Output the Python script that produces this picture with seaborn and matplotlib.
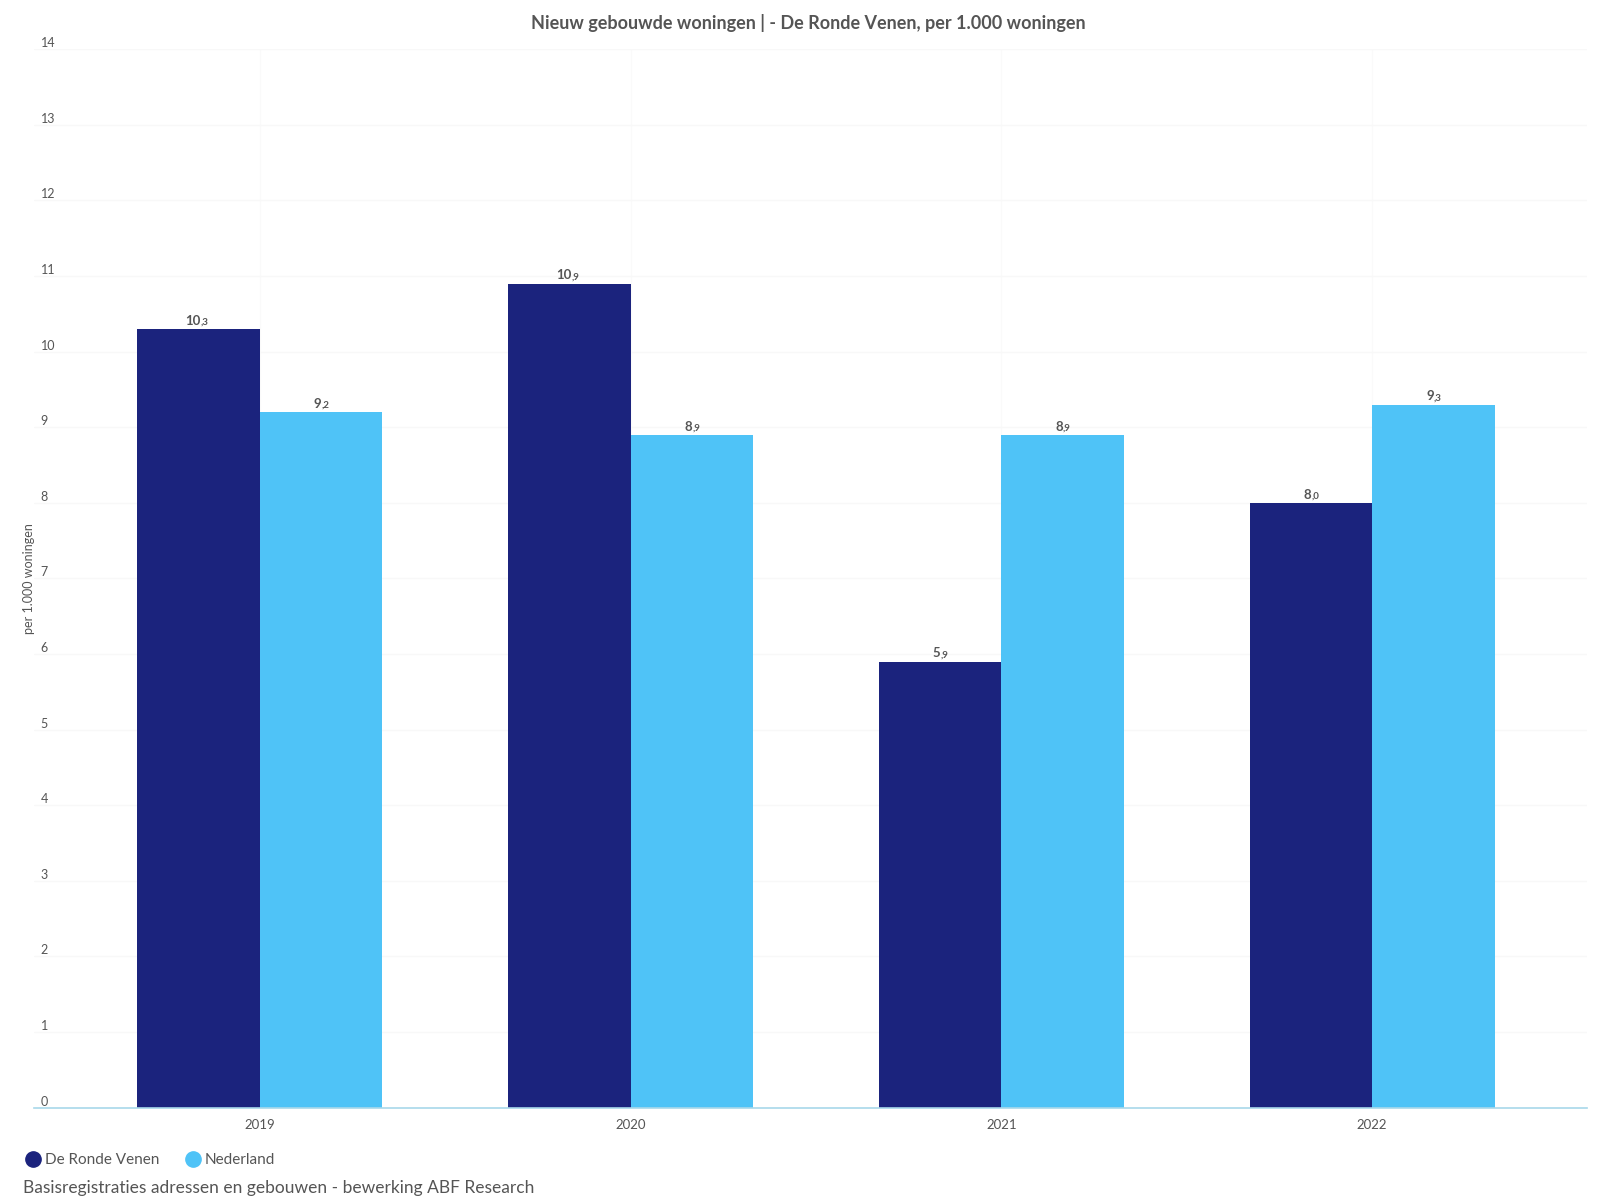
import matplotlib
matplotlib.use("Agg")
import matplotlib.pyplot as plt
import seaborn as sns
import pandas as pd
from matplotlib.lines import Line2D

jaren = ["2019", "2020", "2021", "2022"]
de_ronde_venen = [10.3, 10.9, 5.9, 8.0]
nederland = [9.2, 8.9, 8.9, 9.3]
gebieden = ["De Ronde Venen", "Nederland"]
kleuren = ["#1b237d", "#4fc3f7"]
yticks = list(range(0, 15))

df = pd.DataFrame({
    "jaar": jaren * 2,
    "waarde": de_ronde_venen + nederland,
    "gebied": [gebieden[0]] * 4 + [gebieden[1]] * 4,
})

sns.set_style("white")
plt.rcParams["font.family"] = ["Lato", "DejaVu Sans"]
grijs = "#555555"

fig = plt.figure(figsize=(16, 12), dpi=100)
ax = fig.add_axes([0.021, 0.077, 0.971, 0.882])

sns.barplot(
    data=df, x="jaar", y="waarde", hue="gebied",
    palette=kleuren, saturation=1, width=0.66,
    legend=False, ax=ax, zorder=2, linewidth=0,
)

ax.set_ylim(0, 14)
ax.set_xlim(-0.61, 3.58)
ax.set_yticks(yticks)
ax.set_yticklabels([str(t) for t in yticks], ha="left", va="bottom")
ax.tick_params(axis="y", length=0, pad=-5, labelsize=9, labelcolor=grijs)
ax.tick_params(axis="x", length=0, pad=8, labelsize=9.5, labelcolor=grijs)
ax.grid(axis="y", color="#f8f8f8", lw=1, zorder=0)
ax.grid(axis="x", color="#fafafa", lw=1, zorder=0)
ax.set_axisbelow(True)
for s in ["top", "right", "left"]:
    ax.spines[s].set_visible(False)
ax.spines["bottom"].set_color("#a8d8ea")
ax.spines["bottom"].set_linewidth(1.2)
ax.set_xlabel("")
ax.set_ylabel("per 1.000 woningen", fontsize=9, color=grijs)
ax.yaxis.set_label_coords(0.001, 0.5)

# waardelabels: geheel deel groot, decimaal kleiner
for cont in ax.containers:
    for bar, val in zip(cont.patches, cont.datavalues):
        heel, dec = f"{val:.1f}".split(".")
        x = bar.get_x() + bar.get_width() / 2
        t1 = ax.annotate(heel, xy=(x, val), xytext=(-2.5 - 1.3 * (len(heel) - 1), 1.5),
                         textcoords="offset points", ha="center", va="bottom",
                         fontsize=9.5, fontweight="bold", color=grijs, zorder=4)
        ax.annotate("," + dec, xy=(1, 0.02), xycoords=t1, ha="left", va="bottom",
                    fontsize=7, fontweight="bold", color=grijs, zorder=4)

fig.suptitle("Nieuw gebouwde woningen | - De Ronde Venen, per 1.000 woningen",
             x=0.505, y=0.988, va="top", fontsize=13, fontweight="bold", color=grijs)

handles = [Line2D([], [], marker="o", ls="", markersize=11, color=c) for c in kleuren]
fig.legend(handles, gebieden, loc="center left", bbox_to_anchor=(0.006, 0.033),
           frameon=False, fontsize=11, handletextpad=0.2, columnspacing=1.6,
           ncol=2, labelcolor=grijs, handlelength=1.2)

fig.text(0.0145, 0.01, "Basisregistraties adressen en gebouwen - bewerking ABF Research",
         fontsize=12.5, color=grijs, va="center", ha="left")

fig.savefig("out.png", dpi=100, facecolor="white")
